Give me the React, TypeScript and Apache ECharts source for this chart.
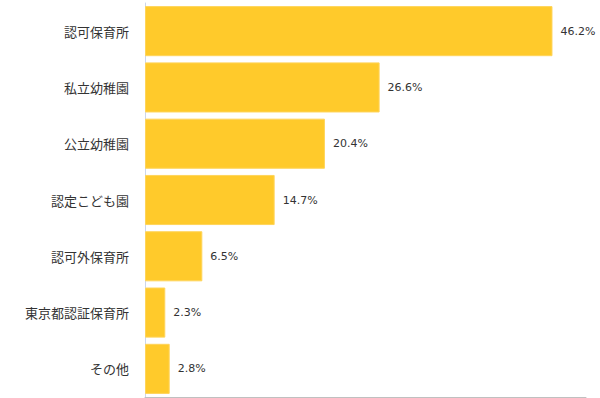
import React, { useEffect, useRef } from "react";
import * as echarts from "echarts";

const categories = ["認可保育所", "私立幼稚園", "公立幼稚園", "認定こども園", "認可外保育所", "東京都認証保育所", "その他"];
const values = [46.2, 26.6, 20.4, 14.7, 6.5, 2.3, 2.8];

export default function App() {
  const ref = useRef<HTMLDivElement>(null);
  useEffect(() => {
    const chart = echarts.init(ref.current!, null, { renderer: "svg" });
    chart.setOption({
      animation: false,
      grid: { left: 145, right: 14, top: 3, bottom: 1, containLabel: false },
      xAxis: {
        type: "value",
        min: 0,
        max: 50,
        axisLabel: { show: false },
        splitLine: { show: false },
        axisTick: { show: false },
        axisLine: { show: true, lineStyle: { color: "#c0c0c0", width: 1 } },
      },
      yAxis: {
        type: "category",
        data: categories,
        inverse: true,
        axisTick: { show: false },
        axisLine: { show: true, lineStyle: { color: "#ccd6eb", width: 1 } },
        axisLabel: {
          color: "#333333",
          fontSize: 13,
          margin: 16,
          fontFamily: "'Noto Sans CJK JP', sans-serif",
        },
      },
      series: [
        {
          type: "bar",
          data: values,
          barCategoryGap: "11%",
          itemStyle: { color: "#ffca2b", borderColor: "#ffd45a", borderWidth: 1 },
          label: {
            show: true,
            position: "right",
            distance: 8,
            formatter: "{c}%",
            color: "#333333",
            fontSize: 11,
            fontFamily: "'DejaVu Sans', Verdana, sans-serif",
          },
        },
      ],
    });
    return () => chart.dispose();
  }, []);
  return <div ref={ref} style={{ width: 600, height: 398, position: "absolute", left: 0, top: 0 }} />;
}
